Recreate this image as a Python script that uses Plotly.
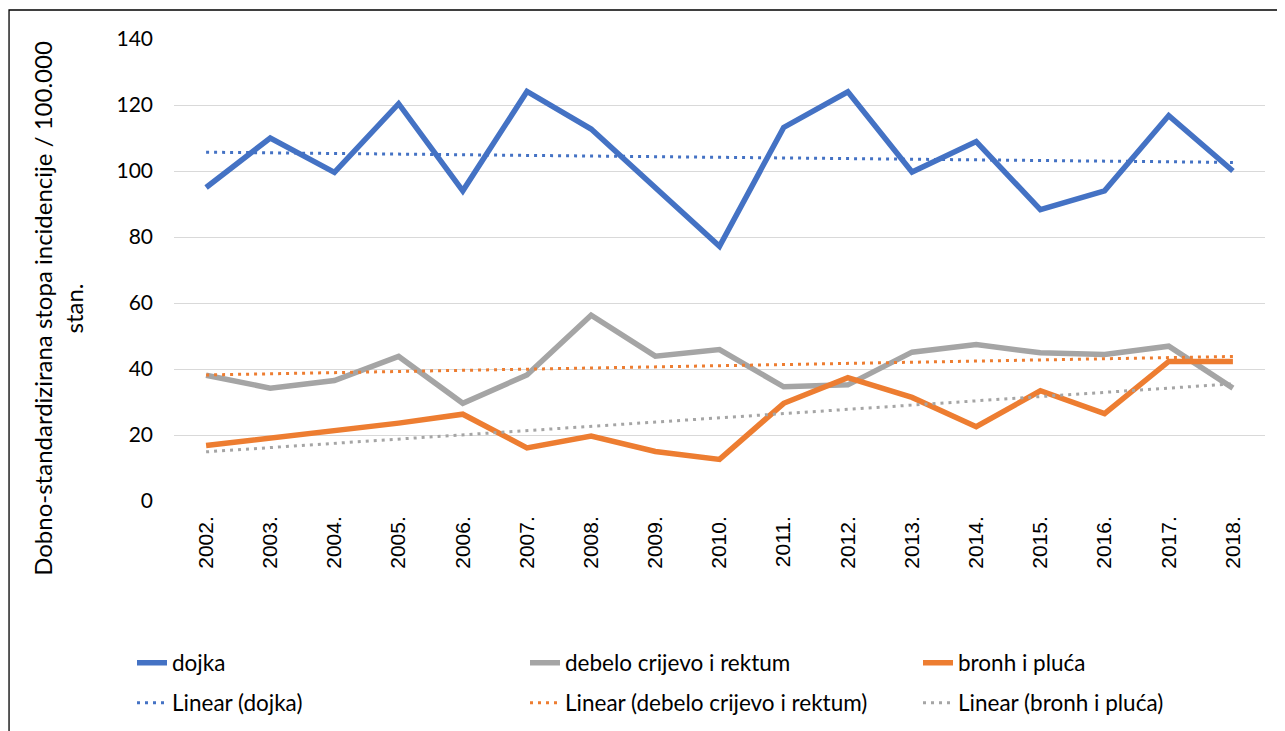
import plotly.graph_objects as go

# Years (category labels)
years = [ '2002.', '2003.', '2004.', '2005.', '2006.', '2007.', '2008.', '2009.', '2010.',
          '2011.', '2012.', '2013.', '2014.', '2015.', '2016.', '2017.', '2018.' ];

# Age-standardised incidence rate / 100.000
dojka = [ 95.0, 110.0, 99.6, 120.4, 94.0, 124.1, 112.7, 95.0, 77.2,
          113.2, 124.0, 99.7, 108.9, 88.3, 94.0, 116.8, 100.0 ];
debelo = [ 38.1, 34.2, 36.5, 43.8, 29.6, 38.2, 56.3, 43.9, 45.9,
           34.6, 35.2, 45.1, 47.4, 44.9, 44.4, 46.9, 34.2 ];
bronh = [ 16.8, 19.0, 21.0, 23.6, 26.3, 16.1, 19.7, 15.0, 12.6,
          29.6, 37.4, 31.4, 22.5, 33.4, 26.5, 42.3, 42.3 ];

trend_years = [ years[0], years[-1] ];
trend_dojka = [ 105.7, 102.6 ];
trend_debelo = [ 38.2, 43.8 ];
trend_bronh = [ 14.9, 35.5 ];

BLUE = '#4472C4';
ORANGE = '#ED7D31';
GREY = '#A5A5A5';
FONT = 'Lato';

# The page body adds an 8px margin, so the figure is 8px smaller than the window
W = 1277;
H = 723;

fig = go.Figure();

# Main series
fig.add_trace(go.Scatter(x = years, y = dojka, name = 'dojka', mode = 'lines',
                         line = {'color': BLUE, 'width': 5.5}, legend = 'legend'));
fig.add_trace(go.Scatter(x = years, y = debelo, name = 'debelo crijevo i rektum', mode = 'lines',
                         line = {'color': GREY, 'width': 5.5}, legend = 'legend2'));
fig.add_trace(go.Scatter(x = years, y = bronh, name = 'bronh i pluća', mode = 'lines',
                         line = {'color': ORANGE, 'width': 5.5}, legend = 'legend3'));

# Trendlines (colours as in the original, the last two are swapped)
dots = '3px,5px';
fig.add_trace(go.Scatter(x = trend_years, y = trend_dojka, name = 'Linear (dojka)', mode = 'lines',
                         line = {'color': BLUE, 'width': 3, 'dash': dots}, legend = 'legend4'));
fig.add_trace(go.Scatter(x = trend_years, y = trend_debelo, name = 'Linear (debelo crijevo i rektum)', mode = 'lines',
                         line = {'color': ORANGE, 'width': 3, 'dash': dots}, legend = 'legend5'));
fig.add_trace(go.Scatter(x = trend_years, y = trend_bronh, name = 'Linear (bronh i pluća)', mode = 'lines',
                         line = {'color': GREY, 'width': 3, 'dash': dots}, legend = 'legend6'));

# Axes
fig.update_yaxes(range = [ 0, 140 ], dtick = 20, tick0 = 0, automargin = False,
                 gridcolor = '#D9D9D9', gridwidth = 1.3, zeroline = False,
                 showline = False, ticks = '', ticklabelstandoff = 20,
                 tickfont = {'family': FONT, 'size': 21, 'color': '#000000'});
fig.update_xaxes(type = 'category', range = [ -0.5, len(years) - 0.5 ], automargin = False,
                 showgrid = False, showline = False, ticks = '', tickangle = -90,
                 ticklabelstandoff = 10,
                 tickfont = {'family': 'Liberation Sans', 'size': 21, 'color': '#000000'});

# Axis title as annotation (sits a bit below the centre of the plot)
fig.add_annotation(text = 'Dobno-standardizirana stopa incidencije / 100.000<br>stan.',
                   xref = 'paper', yref = 'paper', x = -0.1065, y = 0.4177,
                   xanchor = 'center', yanchor = 'middle', textangle = -90,
                   showarrow = False, align = 'center',
                   font = {'family': FONT, 'size': 24, 'color': '#000000'});

# Chart border (right and bottom edges are off the picture)
fig.add_shape(type = 'rect', xref = 'paper', yref = 'paper',
              x0 = -0.1512, y0 = 1.0628, x1 = 1.05, y1 = -0.6,
              line = {'color': '#000000', 'width': 1.3}, layer = 'below');

# One legend per entry: 3 columns x 2 rows, placed in container pixels
legend_style = dict(xref = 'container', yref = 'container',
                    xanchor = 'left', yanchor = 'middle',
                    bgcolor = 'rgba(0,0,0,0)', font = {'family': FONT, 'size': 22.5, 'color': '#000000'});
col_x = [ 124, 517, 910 ];
row_y = [ 655, 695 ];
legends = {};
for i in range(6):
    key = 'legend' if i == 0 else 'legend%d' % (i + 1);
    legends[key] = dict(legend_style, x = col_x[i % 3] / W, y = 1 - row_y[i // 3] / H);

fig.update_layout(
    width = W, height = H,
    margin = {'l': 166, 'r': 20, 't': 31, 'b': 230, 'autoexpand': False},
    paper_bgcolor = 'white', plot_bgcolor = 'white',
    showlegend = True,
    **legends
);

fig.write_html("out.html");
